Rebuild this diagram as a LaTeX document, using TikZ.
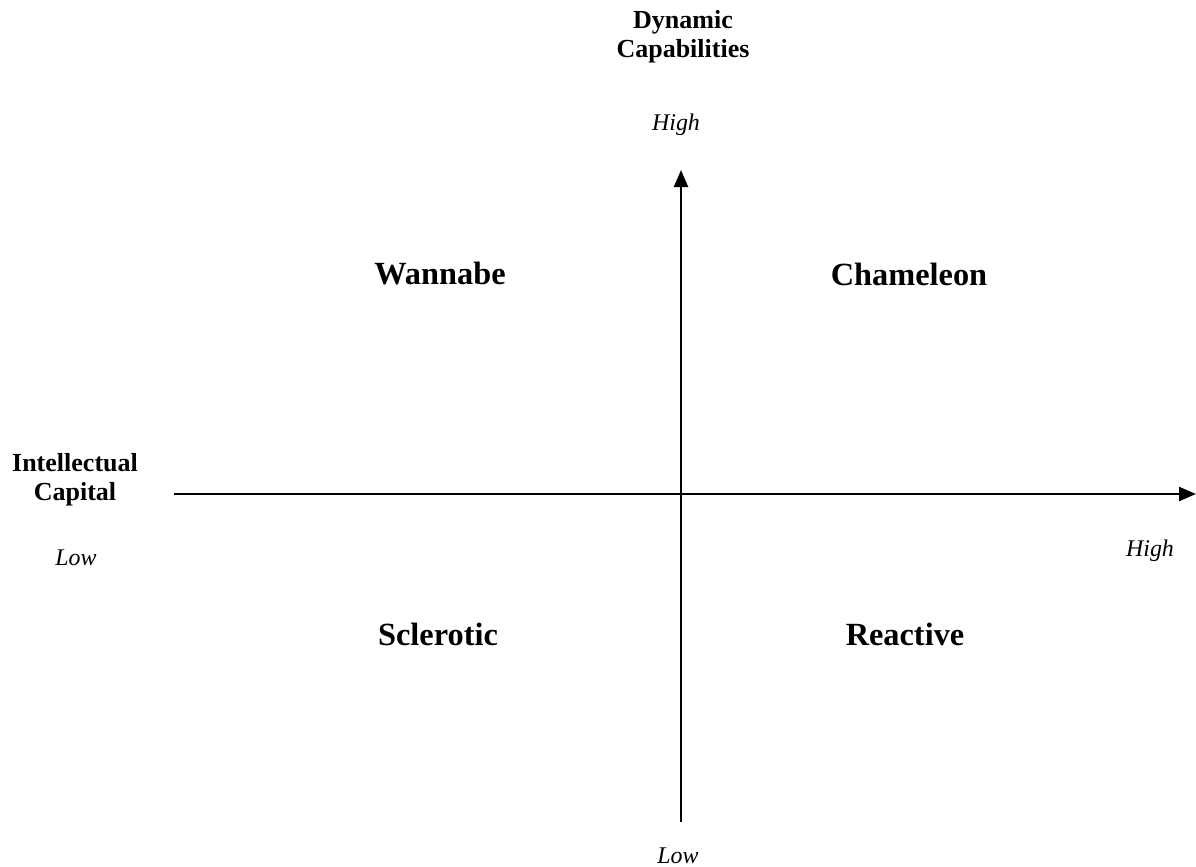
\documentclass[tikz,border=0pt]{standalone}
\usepackage{fontspec}
\setmainfont{Liberation Serif}
\usetikzlibrary{arrows.meta, positioning}

\begin{document}
\begin{tikzpicture}[
  x=0.025cm, y=-0.025cm,
  axis/.style={-{Triangle[length=17*0.025cm, width=14*0.025cm]}, line width=1.6pt},
  axislabel/.style={font=\fontsize{18.5}{20.5}\selectfont\bfseries, align=center},
  level/.style={font=\fontsize{17}{20}\selectfont\itshape},
  quadrant/.style={font=\fontsize{23}{27}\selectfont\bfseries}
]
\useasboundingbox (0,0) rectangle (1196,867);

% ---- Axes ----
\coordinate (vbot)  at (681,822);
\coordinate (vtop)  at (681,170);
\coordinate (hleft) at (174,494);
\coordinate (hright) at (1196,494);

\draw[axis] (vbot)  -- (vtop);
\draw[axis] (hleft) -- (hright);

% ---- Vertical axis labels ----
\node[axislabel] (dyn)     at (683,37)  {Dynamic\\Capabilities};
\node[level]     (dynhigh) at (676,125) {High};
\node[level]     (dynlow)  at (678,856) {Low};

% ---- Horizontal axis labels ----
\node[axislabel] (ic)     at (75,480)   {Intellectual\\Capital};
\node[level]     (iclow)  at (76,558)   {Low};
\node[level]     (ichigh) at (1150,551) {High};

% ---- Quadrants ----
\node[quadrant] (wannabe)   at (440,274) {Wannabe};
\node[quadrant] (chameleon) at (909,274) {Chameleon};
\node[quadrant] (sclerotic) at (438,634) {Sclerotic};
\node[quadrant] (reactive)  at (905,634) {Reactive};

\end{tikzpicture}
\end{document}
